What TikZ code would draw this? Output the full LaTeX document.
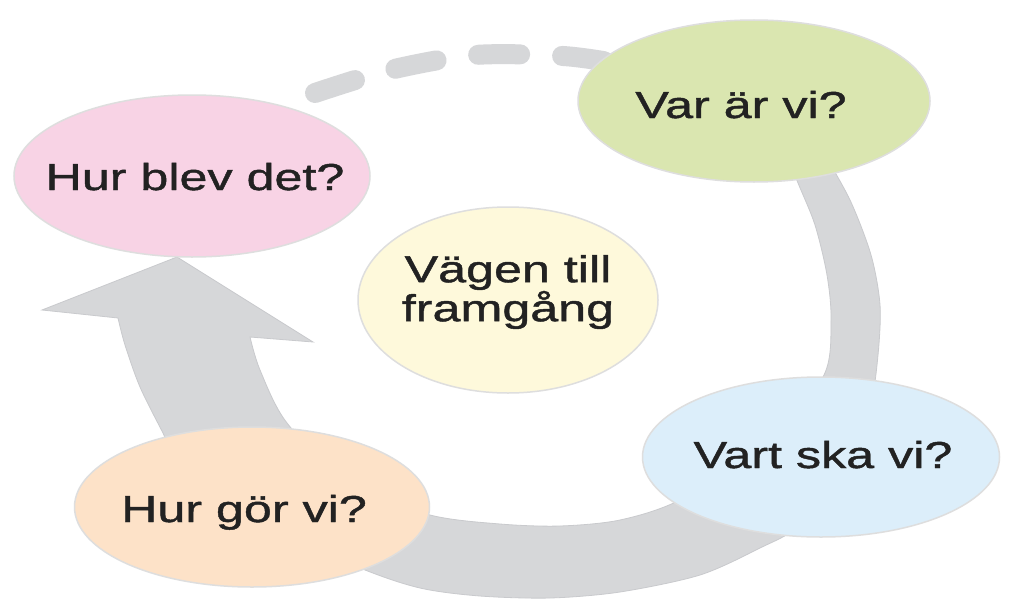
\documentclass[tikz,border=0pt]{standalone}
\usepackage{fontspec}
\setmainfont{Liberation Sans}[FakeStretch=1.34,FakeBold=1.2]
\usetikzlibrary{shapes.geometric}
\definecolor{bandc}{HTML}{D6D7D9}
\definecolor{bandedge}{HTML}{C9CACD}
\definecolor{pinkc}{HTML}{F8D3E5}
\definecolor{greenc}{HTML}{DAE6B0}
\definecolor{yellowc}{HTML}{FEF9DB}
\definecolor{bluec}{HTML}{DCEEFA}
\definecolor{orangec}{HTML}{FDE2C8}
\definecolor{txtc}{HTML}{222222}
\begin{document}
\begin{tikzpicture}[x=1pt,y=-1pt,
  bubble/.style={ellipse, inner sep=0pt, draw=black!13, line width=1.5pt},
  lbl/.style={inner sep=0pt, text=txtc, font=\fontsize{37.5}{34}\selectfont},
  band/.style={fill=bandc, draw=bandedge, line width=0.8pt},
  dashband/.style={draw=bandc, line width=20pt, line cap=round, dash pattern=on 42pt off 42pt}]
\useasboundingbox (0,0) rectangle (1024,610);
\fill[white] (0,0) rectangle (1024,610);
% cycle band with arrowhead
\coordinate (tip) at (177,257);
\coordinate (lbarb) at (42,310);
\coordinate (rbarb) at (313,342);
\coordinate (lnotch) at (118,318);
\coordinate (rnotch) at (250,337);
\path[band] (785,150) -- plot[smooth] coordinates {(822,150) (850,200) (871,255) (880,305) (878,355) (870,410) (850,465) (800,525) (760,548) (700,575) (620,592) (550,598) (480,596) (420,588) (360,568) (250,520) (180,465) (163,433) (140,387) (125,345) (118,318)} -- (lbarb) -- (tip) -- (rbarb) -- (rnotch) -- plot[smooth] coordinates {(250,337) (260,370) (287,423) (350,485) (430,515) (500,524) (560,526) (620,520) (680,500) (770,445) (824,375) (831,320) (827,275) (815,225) (798,183) (785,150)} -- cycle;
% dashed part
\coordinate (dstart) at (315,93);
\draw[dashband] (dstart) -- plot[smooth] coordinates {(315,93) (390,70) (475,55) (563,56) (615,63)};
% bubbles
\node[bubble, fill=pinkc, minimum width=356pt, minimum height=162pt] (pink) at (192,176) {};
\node[bubble, fill=greenc, minimum width=352pt, minimum height=162pt] (green) at (754,101) {};
\node[bubble, fill=yellowc, minimum width=300pt, minimum height=186pt] (yellow) at (508,300) {};
\node[bubble, fill=bluec, minimum width=357pt, minimum height=160pt] (blue) at (821,457) {};
\node[bubble, fill=orangec, minimum width=355pt, minimum height=160pt] (orange) at (252,507) {};
% labels
\node[lbl, anchor=base] (tpink) at (195,190) {Hur blev det?};
\node[lbl, anchor=base] (tgreen) at (741,118) {Var är vi?};
\node[lbl, align=center] (tyellow) at (508,292) {Vägen till\\framgång};
\node[lbl, anchor=base] (tblue) at (823,468) {Vart ska vi?};
\node[lbl, anchor=base] (torange) at (244,522) {Hur gör vi?};
\end{tikzpicture}
\end{document}
